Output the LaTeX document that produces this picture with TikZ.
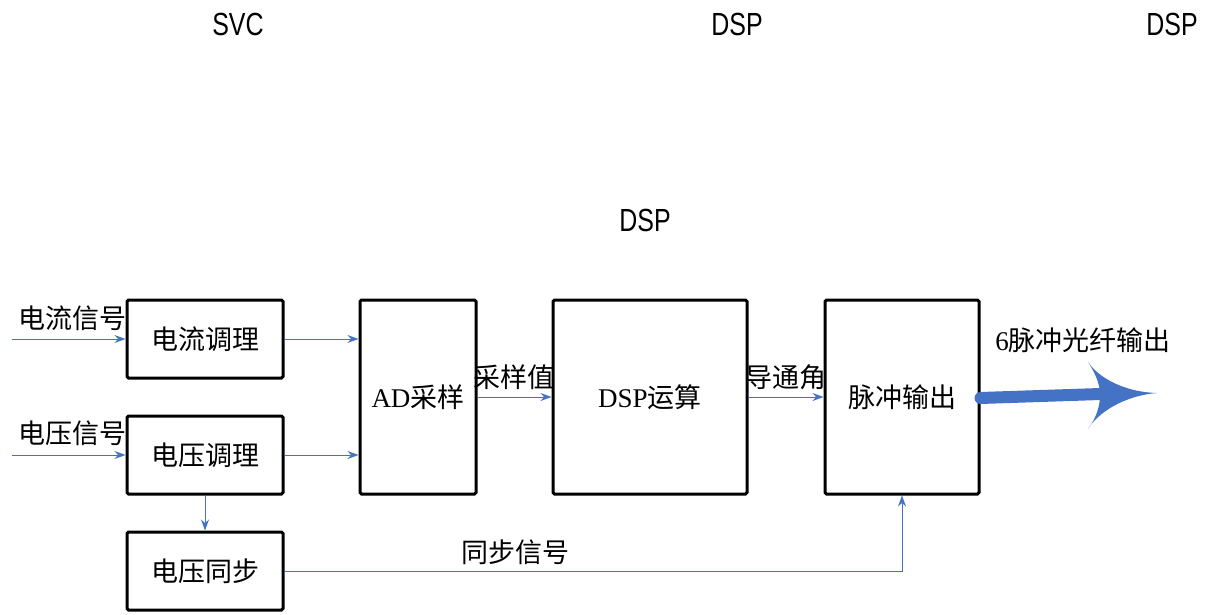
\documentclass[tikz,border=0pt]{standalone}
\usepackage{fontspec}
\setmainfont{Liberation Serif}
\newfontfamily\cjk{Noto Sans CJK SC}
\newfontfamily\topf{Liberation Sans}
\usetikzlibrary{arrows.meta}
\definecolor{lblue}{HTML}{4472C4}
\begin{document}
\begin{tikzpicture}[x=1pt,y=-1pt,
  blk/.style={draw, line width=3pt, rounded corners=1.5pt, inner sep=0pt,
    font=\fontsize{27}{27}\selectfont},
  sig/.style={lblue, line width=1pt, -{Stealth[length=11pt,width=8pt]}},
  lbl/.style={inner sep=0pt, font=\cjk\fontsize{27}{27}\selectfont},
  toplbl/.style={inner sep=0pt, font=\topf\fontsize{32}{32}\selectfont, xscale=0.78}]
\useasboundingbox (0,0) rectangle (1213,615);

\node[toplbl] (t1) at (238,24) {SVC};
\node[toplbl] (t2) at (737,24) {DSP};
\node[toplbl] (t3) at (1172,24) {DSP};
\node[toplbl] (t4) at (645,220) {DSP};

\node[blk, minimum width=156, minimum height=78] (creg) at (205,339) {\cjk 电流调理};
\node[blk, minimum width=156, minimum height=78] (vreg) at (205,455) {\cjk 电压调理};
\node[blk, minimum width=156, minimum height=78] (vsync) at (205,571) {\cjk 电压同步};
\node[blk, minimum width=116, minimum height=194] (ad) at (418,397) {AD{\cjk 采样}};
\node[blk, minimum width=194, minimum height=194] (dsp) at (650,397) {DSP{\cjk 运算}};
\node[blk, minimum width=154, minimum height=194] (pulse) at (902,397) {\cjk 脉冲输出};

\coordinate (in1) at (12,339);
\coordinate (in2) at (12,455);
\draw[sig] (in1) -- (creg.west);
\draw[sig] (in2) -- (vreg.west);
\node[lbl] (l1) at (73,318) {电流信号};
\node[lbl] (l2) at (73,433) {电压信号};

\draw[sig] (creg.east) -- (creg.east -| ad.west);
\draw[sig] (vreg.east) -- (vreg.east -| ad.west);
\draw[sig] (ad.east) -- (dsp.west);
\draw[sig] (dsp.east) -- (pulse.west);
\node[lbl] (l3) at (514,377) {采样值};
\node[lbl] (l4) at (786,377) {导通角};

\draw[sig] (vreg.south) -- (vsync.north);
\draw[sig] (vsync.east) -| (pulse.south);
\node[lbl] (l5) at (515,552) {同步信号};

\node[inner sep=0pt, font=\fontsize{27}{27}\selectfont] (l6) at (1083,340) {6{\cjk 脉冲光纤输出}};

\coordinate (tip) at (1157,393);
\draw[lblue, line width=12pt, line cap=round] (pulse.east |- 0,398) -- (1100,394);
\fill[lblue] (tip) .. controls (1122,392) and (1097,376) .. (1088,362)
  .. controls (1097,376) and (1100,386) .. (1100,395)
  .. controls (1100,405) and (1097,417) .. (1088,429)
  .. controls (1097,414) and (1122,396) .. (tip) -- cycle;
\end{tikzpicture}
\end{document}
